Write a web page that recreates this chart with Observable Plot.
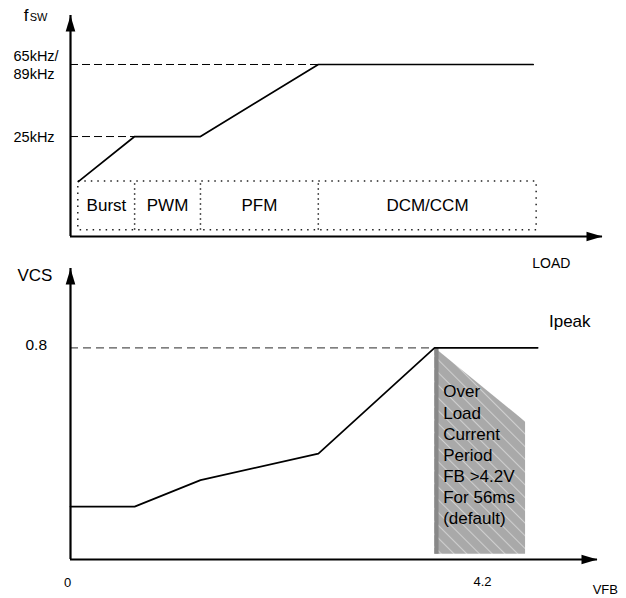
<!DOCTYPE html>
<html><head><meta charset="utf-8">
<script src="https://cdn.jsdelivr.net/npm/d3@7"></script>
<script src="https://cdn.jsdelivr.net/npm/@observablehq/plot@0.6"></script>
<style>
html,body{margin:0;padding:0;background:#fff;}
#chart{width:626px;height:598px;position:relative;}
#chart svg{display:block;overflow:visible;}
</style></head><body><div id="chart"></div>
<script>
// ---------- data: top panel (switching frequency vs load) ----------
const loadDomain = [0, 6.14];
const fswDomain = [-30.5, 92.2];           // kHz (schematic)
const fswX = [0.09, 0.74, 1.5, 2.86, 5.34];
const fswY = [0, 25, 25, 65, 65];
const fswTicks = [25, 65];
const fswTickLabels = ["25kHz", "65kHz/\n89kHz"];
const modeNames = ["Burst", "PWM", "PFM", "DCM/CCM"];
const modeBounds = [0.09, 0.74, 1.5, 2.86, 5.38];
const modeBand = [-27, 0];                 // kHz extent of the mode box

// ---------- data: bottom panel (VCS vs VFB) ----------
const vfbDomain = [0, 6.08];
const vcsDomain = [0, 1.1];
const vfbX = [0, 0.74, 1.5, 2.86, 4.2, 5.39];
const vcsY = [0.2, 0.2, 0.3, 0.4, 0.8, 0.8];
const vcsTicks = [0.8];
const vfbTicks = [0, 4.2];
const olpX = [4.2, 5.25];
const olpTop = [0.8, 0.52];
const olpBottom = 0.02;
const olpText = "Over\nLoad\nCurrent\nPeriod\nFB >4.2V\nFor 56ms\n(default)";
const olpTextAt = {x: 4.3, y: 0.399};
const ipeakAt = {x: 5.52, y: 0.9};
const vcsLabelAt = {x: -0.41, y: 1.074};
const vfbLabelAt = {x: 6.17, y: -0.113};
const fswLabelAt = {x: -0.54, y: 88.9};
const loadLabelAt = {x: 5.33, y: -45.6};

const FONT = "'Liberation Sans', Arial, Helvetica, sans-serif";
const head = {draw(ctx) { ctx.moveTo(0, 0); ctx.lineTo(4.8, 16); ctx.lineTo(-4.8, 16); ctx.closePath(); }};

const fswLabelMap = new Map(fswTicks.map((t, i) => [t, fswTickLabels[i]]));
const modes = modeNames.map((name, i) => ({name, x1: modeBounds[i], x2: modeBounds[i + 1]}));
const fswPts = fswX.map((x, i) => ({x, y: fswY[i]}));
const vcsPts = vfbX.map((x, i) => ({x, y: vcsY[i]}));
const olpPts = olpX.map((x, i) => ({x, y1: olpBottom, y2: olpTop[i]}));

const topPlot = Plot.plot({
  width: 626, height: 266,
  marginLeft: 70, marginRight: 24, marginTop: 15, marginBottom: 30,
  x: {domain: loadDomain, axis: null},
  y: {domain: fswDomain, label: null},
  style: {fontFamily: FONT, overflow: "visible", background: "transparent", color: "black"},
  marks: [
    Plot.ruleY(fswTicks, {x1: 0, x2: d => fswX[fswY.indexOf(d)], stroke: "black", strokeWidth: 1, strokeDasharray: "8,4"}),
    Plot.rect([{x1: modeBounds[0], x2: modeBounds[modeBounds.length - 1]}], {x1: "x1", x2: "x2", y1: modeBand[0], y2: modeBand[1], fill: "none", stroke: "#222", strokeWidth: 1.5, strokeDasharray: "1.5,5"}),
    Plot.ruleX(modeBounds.slice(1, -1), {y1: modeBand[0], y2: modeBand[1], stroke: "#222", strokeWidth: 1.5, strokeDasharray: "1.5,3.5"}),
    Plot.text(modes, {x: d => (d.x1 + d.x2) / 2, y: (modeBand[0] + modeBand[1]) / 2, text: "name", fontSize: 17, fill: "black"}),
    Plot.line(fswPts, {x: "x", y: "y", stroke: "black", strokeWidth: 1.7}),
    Plot.ruleX([0], {y1: fswDomain[0], y2: fswDomain[1], stroke: "black", strokeWidth: 2.2}),
    Plot.ruleY([fswDomain[0]], {x1: 0, x2: loadDomain[1], stroke: "black", strokeWidth: 2.2}),
    Plot.dot([{x: 0, y: fswDomain[1], r: 0}, {x: loadDomain[1], y: fswDomain[0], r: 90}], {x: "x", y: "y", rotate: "r", symbol: head, r: 4, fill: "black", stroke: "none"}),
    Plot.axisY(fswTicks, {tickSize: 0, tickPadding: 0, textAnchor: "start", dx: -57, fontSize: 14.5, lineHeight: 1.2, tickFormat: d => fswLabelMap.get(d), label: null}),
    Plot.text([fswLabelAt], {x: "x", y: "y", text: () => "f", textAnchor: "start", lineAnchor: "bottom", fontSize: 17, fill: "black"}),
    Plot.text([fswLabelAt], {x: "x", y: "y", text: () => "SW", textAnchor: "start", lineAnchor: "bottom", fontSize: 11, dx: 6, fill: "black"}),
    Plot.text([loadLabelAt], {x: "x", y: "y", text: () => "LOAD", textAnchor: "start", fontSize: 14, fill: "black"})
  ]
});

const bottomPlot = Plot.plot({
  width: 626, height: 332,
  marginLeft: 70, marginRight: 29, marginTop: 2, marginBottom: 39,
  x: {domain: vfbDomain, label: null},
  y: {domain: vcsDomain, label: null},
  style: {fontFamily: FONT, overflow: "visible", background: "transparent", color: "black"},
  marks: [
    Plot.areaY(olpPts, {x: "x", y1: "y1", y2: "y2", fill: "url(#olpHatch)"}),
    Plot.ruleX([olpX[0]], {y1: olpBottom, y2: olpTop[0], stroke: "#888", strokeWidth: 4, dx: 2}),
    Plot.ruleY(vcsTicks, {x1: 0, x2: d => vfbX[vcsY.indexOf(d)], stroke: "#555", strokeWidth: 1.4, strokeDasharray: "8,5"}),
    Plot.line(vcsPts, {x: "x", y: "y", stroke: "black", strokeWidth: 1.7}),
    Plot.ruleX([0], {y1: vcsDomain[0], y2: vcsDomain[1], stroke: "black", strokeWidth: 2.2}),
    Plot.ruleY([vcsDomain[0]], {x1: 0, x2: vfbDomain[1], stroke: "black", strokeWidth: 2.2}),
    Plot.dot([{x: 0, y: vcsDomain[1], r: 0}, {x: vfbDomain[1], y: vcsDomain[0], r: 90}], {x: "x", y: "y", rotate: "r", symbol: head, r: 4, fill: "black", stroke: "none"}),
    Plot.axisY(vcsTicks, {tickSize: 0, tickPadding: 0, textAnchor: "start", dx: -45, dy: -3, fontSize: 15.5, tickFormat: d => String(d), label: null}),
    Plot.axisX([vfbTicks[0]], {tickSize: 0, tickPadding: 0, dx: -3, dy: 18, fontSize: 13, tickFormat: d => String(d), label: null}),
    Plot.axisX([vfbTicks[1]], {tickSize: 0, tickPadding: 0, dx: 48, dy: 17, fontSize: 13, tickFormat: d => String(d), label: null}),
    Plot.text([olpTextAt], {x: "x", y: "y", text: () => olpText, textAnchor: "start", lineAnchor: "middle", lineHeight: 1.24, fontSize: 17, fill: "black"}),
    Plot.text([ipeakAt], {x: "x", y: "y", text: () => "Ipeak", textAnchor: "start", fontSize: 17, fill: "black"}),
    Plot.text([vcsLabelAt], {x: "x", y: "y", text: () => "VCS", fontSize: 17, fill: "black"}),
    Plot.text([vfbLabelAt], {x: "x", y: "y", text: () => "VFB", fontSize: 13, fill: "black"})
  ]
});

const chart = document.getElementById("chart");
chart.appendChild(topPlot);
chart.appendChild(bottomPlot);
const svgB = bottomPlot.tagName.toLowerCase() === "svg" ? bottomPlot : bottomPlot.querySelector("svg");
d3.select(svgB).insert("defs", ":first-child").html(
  '<pattern id="olpHatch" patternUnits="userSpaceOnUse" width="9" height="9" patternTransform="rotate(-45)">' +
  '<rect width="9" height="9" fill="#a9a9a9"/>' +
  '<line x1="0.5" y1="0" x2="0.5" y2="9" stroke="#cfcfcf" stroke-width="1.1"/></pattern>'
);
</script></body></html>
